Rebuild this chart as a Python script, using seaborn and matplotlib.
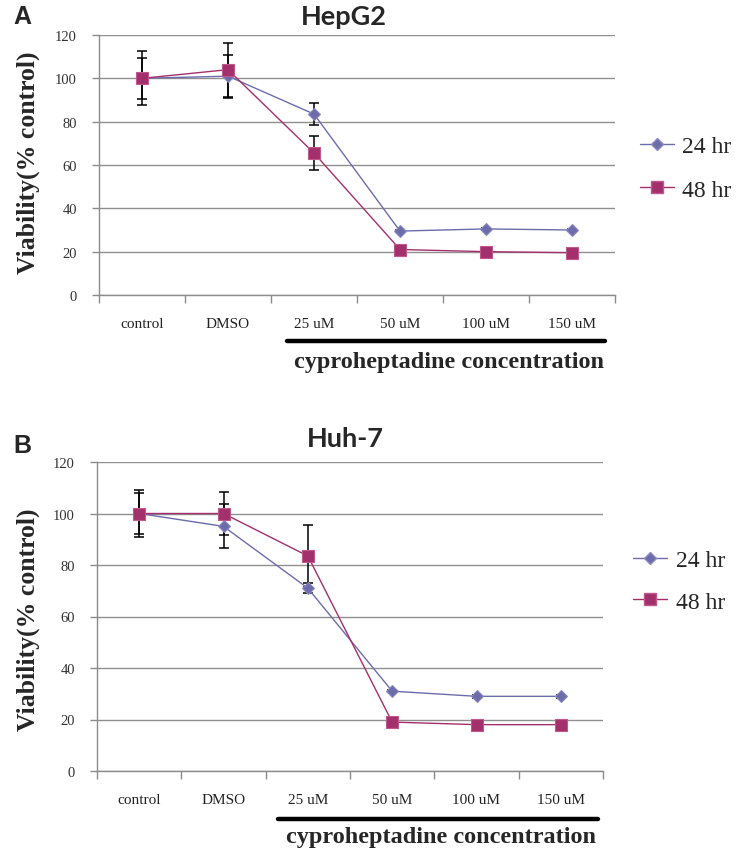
import numpy as np
import pandas as pd
import seaborn as sns
import matplotlib.pyplot as plt
from matplotlib.lines import Line2D

# categories on the x axis
groups = ["control", "DMSO", "25 uM", "50 uM", "100 uM", "150 uM"]
series = ["24 hr", "48 hr"]

# HepG2 viability (% control) and error bars
hep_24 = [100, 101, 83.5, 29.5, 30.5, 30]
hep_48 = [100, 104, 65.5, 21, 20, 19.5]
hep_24_err = [9.5, 10, 5, 0.5, 0.5, 0.5]
hep_48_err = [12.5, 12.5, 8, 0.5, 0.5, 0.5]

# Huh-7 viability (% control) and error bars
huh_24 = [100, 95, 71, 31, 29, 29]
huh_48 = [100, 100, 83.5, 19, 18, 18]
huh_24_err = [8, 8.5, 2, 0.5, 0.5, 0.5]
huh_48_err = [9, 8.5, 12, 0.5, 0.5, 0.5]

W, H = 743, 853
col = {"24 hr": "#6C6CAA", "48 hr": "#A3306C"}
mk = {"24 hr": "D", "48 hr": "s"}
ms = {"24 hr": 6, "48 hr": 9}
edge = {"24 hr": "#8A8AC0", "48 hr": "#C0588C"}

sns.set_style("white")
plt.rcParams["font.family"] = ["Liberation Serif", "DejaVu Serif"]

fig = plt.figure(figsize=(W / 100, H / 100), dpi=100)


def fx(x):
    return x / W


def fy(y):
    return 1 - y / H


def panel(box, title, tcx, tcy, letter, ly, v24, v48, e24, e48,
          ylab_y, leg_y, leg_x, leg_sp, bar, bar_y, txt_y):
    ax = fig.add_axes(box)
    df = pd.DataFrame({
        "pos": list(range(len(groups))) * 2,
        "viability": v24 + v48,
        "time": [series[0]] * len(groups) + [series[1]] * len(groups),
    })
    for s in series:
        d = df[df["time"] == s]
        sns.lineplot(data=d, x="pos", y="viability", color=col[s], marker=mk[s],
                     markersize=ms[s], markeredgecolor=edge[s], markeredgewidth=0.8,
                     linewidth=1.0, ax=ax, legend=False, zorder=3)
    x = np.arange(len(groups))
    ax.errorbar(x, v24, yerr=e24, fmt="none", ecolor="black", elinewidth=1.1,
                capsize=3.6, capthick=1.1, zorder=2.5)
    ax.errorbar(x, v48, yerr=e48, fmt="none", ecolor="black", elinewidth=1.1,
                capsize=3.6, capthick=1.1, zorder=2.5)

    ax.set_xlim(-0.5, len(groups) - 0.5)
    ax.set_ylim(0, 120)
    ax.set_yticks(range(0, 121, 20))
    ax.set_xticks(x)
    ax.set_xticklabels(groups, fontsize=11, color="#222222")
    ax.set_xticks(np.arange(-0.5, len(groups), 1), minor=True)
    ax.tick_params(axis="x", which="major", length=0, pad=16)
    ax.tick_params(axis="x", which="minor", length=6, width=1.0, color="#8c8c8c",
                   direction="out", bottom=True)
    ax.tick_params(axis="y", length=5, width=1.0, color="#8c8c8c", direction="out",
                   left=True, pad=11, labelsize=10.5, labelcolor="#333333")
    ax.yaxis.grid(True, color="#8f8f8f", linewidth=1.0)
    ax.set_axisbelow(True)
    for side in ["top", "right"]:
        ax.spines[side].set_visible(False)
    for side in ["left", "bottom"]:
        ax.spines[side].set_color("#8c8c8c")
        ax.spines[side].set_linewidth(1.0)
    ax.set_xlabel("")
    ax.set_ylabel("")

    fig.text(fx(tcx), fy(tcy), title, ha="center", va="center", fontsize=19.5,
             fontweight="bold", family=["Lato", "DejaVu Sans"])
    fig.text(fx(22), fy(ly), letter, ha="center", va="center", fontsize=18,
             fontweight="bold", family=["Liberation Sans", "DejaVu Sans"])
    fig.text(fx(28), fy(ylab_y), "Viability(% control)", rotation=90, ha="center",
             va="center", fontsize=18.5, fontweight="bold")

    handles = [Line2D([], [], color=col[s], marker=mk[s], markersize=ms[s],
                      markeredgecolor=edge[s], linewidth=1.0) for s in series]
    fig.legend(handles, series, loc="center left", bbox_to_anchor=(fx(leg_x), fy(leg_y)),
               frameon=False, fontsize=17, handlelength=1.45, handletextpad=0.35,
               labelspacing=leg_sp, borderpad=0, borderaxespad=0)

    fig.add_artist(Line2D([fx(bar[0]), fx(bar[1])], [fy(bar_y), fy(bar_y)],
                          color="black", linewidth=3.2))
    fig.text(fx((bar[0] + bar[1]) / 2 + 3), fy(txt_y), "cyproheptadine concentration",
             ha="center", va="center", fontsize=17.5, fontweight="bold")
    return ax


panel([fx(99), fy(296), 516 / W, 260 / H], "HepG2", 344, 17, "A", 17,
      hep_24, hep_48, hep_24_err, hep_48_err,
      ylab_y=163, leg_y=169, leg_x=640, leg_sp=0.95,
      bar=(287, 605), bar_y=342, txt_y=363)
panel([fx(97), fy(772), 506 / W, 309 / H], "Huh-7", 345, 439, "B", 446,
      huh_24, huh_48, huh_24_err, huh_48_err,
      ylab_y=620, leg_y=582, leg_x=633, leg_sp=0.85,
      bar=(278, 598), bar_y=820, txt_y=838)

fig.savefig("out.png", dpi=100, facecolor="white")
